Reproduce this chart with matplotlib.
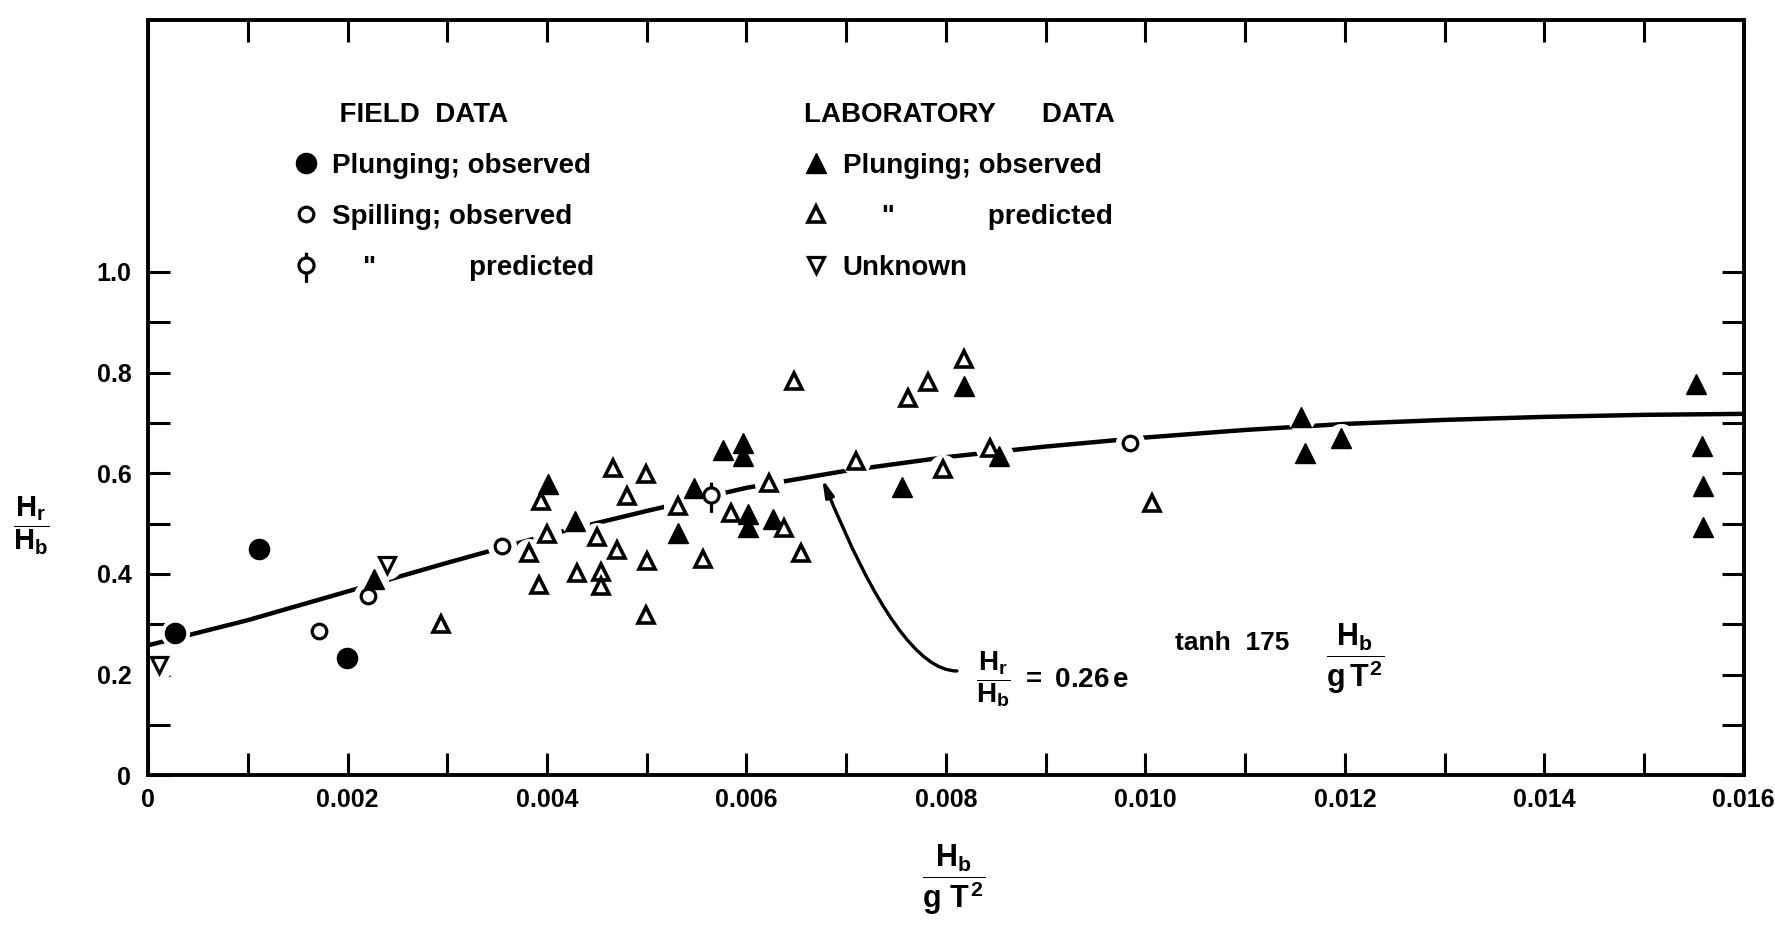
import matplotlib
matplotlib.use("Agg")
import matplotlib.pyplot as plt
from matplotlib.path import Path
from matplotlib.font_manager import FontProperties

# --- values ---
# field data
field_plunge_x = [0.00027, 0.00111, 0.00199]
field_plunge_y = [0.282, 0.450, 0.232]
field_spill_x = [0.00171, 0.00221, 0.00355, 0.00985]
field_spill_y = [0.286, 0.356, 0.455, 0.660]
field_pred_x = [0.00564]
field_pred_y = [0.556]

# laboratory data
lab_plunge_x = [0.00227, 0.00401, 0.00428, 0.00531, 0.00547, 0.00577, 0.00597,
                0.00597, 0.00602, 0.00602, 0.00627, 0.00756, 0.00818, 0.00853,
                0.01156, 0.01160, 0.01196, 0.01552, 0.01558, 0.01559, 0.01559]
lab_plunge_y = [0.390, 0.579, 0.505, 0.482, 0.570, 0.646, 0.660,
                0.635, 0.518, 0.493, 0.509, 0.572, 0.773, 0.635,
                0.712, 0.640, 0.671, 0.777, 0.655, 0.574, 0.493]
lab_pred_x = [0.00294, 0.00382, 0.00392, 0.00394, 0.00400, 0.00430, 0.00450,
              0.00454, 0.00454, 0.00466, 0.00470, 0.00480, 0.00499, 0.00500,
              0.00499, 0.00531, 0.00556, 0.00585, 0.00623, 0.00638, 0.00648,
              0.00655, 0.00710, 0.00762, 0.00782, 0.00797, 0.00818, 0.00844,
              0.01007]
lab_pred_y = [0.300, 0.441, 0.378, 0.545, 0.480, 0.401, 0.473,
              0.403, 0.376, 0.610, 0.448, 0.554, 0.599, 0.426,
              0.318, 0.534, 0.430, 0.520, 0.581, 0.491, 0.784,
              0.441, 0.624, 0.750, 0.782, 0.608, 0.827, 0.651,
              0.540]
unknown_x = [0.00011, 0.00240]
unknown_y = [0.218, 0.417]

# fitted curve
curve_x = [0.0, 0.001, 0.002, 0.003, 0.004, 0.005, 0.006, 0.007, 0.008,
           0.009, 0.010, 0.011, 0.012, 0.013, 0.014, 0.015, 0.016]
curve_y = [0.258, 0.308, 0.365, 0.422, 0.477, 0.525, 0.571, 0.605, 0.632,
           0.653, 0.671, 0.686, 0.698, 0.706, 0.712, 0.716, 0.718]

x_ticks = [0.0, 0.002, 0.004, 0.006, 0.008, 0.010, 0.012, 0.014, 0.016]
x_ticklabels = ["0", "0.002", "0.004", "0.006", "0.008", "0.010", "0.012", "0.014", "0.016"]
y_ticks = [0.0, 0.2, 0.4, 0.6, 0.8, 1.0]
y_ticklabels = ["0", "0.2", "0.4", "0.6", "0.8", "1.0"]

# --- style ---
plt.rcParams["font.family"] = ["Liberation Sans", "DejaVu Sans"]
plt.rcParams["font.weight"] = "bold"
plt.rcParams["mathtext.fontset"] = "custom"
plt.rcParams["mathtext.rm"] = "Liberation Sans:bold"
plt.rcParams["mathtext.it"] = "Liberation Sans:bold"
plt.rcParams["mathtext.bf"] = "Liberation Sans:bold"
plt.rcParams["mathtext.sf"] = "Liberation Sans:bold"

tick_font = FontProperties(family="Liberation Sans", weight="bold", size=18)
legend_font = FontProperties(family="Liberation Sans", weight="bold", size=20)

# marker for "spilling; predicted": open circle with a stem above and below
pred_marker = Path.make_compound_path(
    Path.unit_circle(),
    Path([(0, 1.0), (0, 1.7)], [Path.MOVETO, Path.LINETO]),
    Path([(0, -1.0), (0, -2.3)], [Path.MOVETO, Path.LINETO]),
)

fig = plt.figure(figsize=(17.75, 9.25), dpi=100)
ax = fig.add_axes([0.0834, 0.162, 0.899, 0.816])

ax.plot(curve_x, curve_y, color="black", lw=3.2, solid_capstyle="butt", zorder=1)

# white halos so the curve breaks around the symbols, like the drawing
all_x = field_plunge_x + field_spill_x + field_pred_x + lab_plunge_x + lab_pred_x + unknown_x
all_y = field_plunge_y + field_spill_y + field_pred_y + lab_plunge_y + lab_pred_y + unknown_y
ax.plot(all_x, all_y, ls="none", marker="o", ms=21, mfc="white", mec="none", zorder=2)

h_fp, = ax.plot(field_plunge_x, field_plunge_y, ls="none", marker="o", ms=14.5,
                mfc="black", mec="black", zorder=3)
h_fs, = ax.plot(field_spill_x, field_spill_y, ls="none", marker="o", ms=10.5,
                mfc="white", mec="black", mew=2.3, zorder=3)
h_fpr, = ax.plot(field_pred_x, field_pred_y, ls="none", marker=pred_marker, ms=25,
                 mfc="white", mec="black", mew=2.3, zorder=3)
h_lp, = ax.plot(lab_plunge_x, lab_plunge_y, ls="none", marker="^", ms=15,
                mfc="black", mec="black", zorder=3)
h_lpr, = ax.plot(lab_pred_x, lab_pred_y, ls="none", marker="^", ms=11,
                 mfc="white", mec="black", mew=2.6, zorder=3)
h_un, = ax.plot(unknown_x, unknown_y, ls="none", marker="v", ms=11.5,
                mfc="white", mec="black", mew=2.3, zorder=3)

# axes, ticks
ax.set_xlim(0, 0.016)
ax.set_ylim(0, 1.5)
ax.set_xticks(x_ticks)
ax.set_xticklabels(x_ticklabels, fontproperties=tick_font)
ax.set_xticks([0.001 * i for i in range(1, 16, 2)], minor=True)
ax.set_yticks(y_ticks)
ax.set_yticklabels(y_ticklabels, fontproperties=tick_font)
ax.set_yticks([0.1, 0.3, 0.5, 0.7, 0.9], minor=True)
ax.tick_params(which="both", direction="in", length=16, width=2.2,
               top=True, right=True, labeltop=False, labelright=False)
ax.tick_params(axis="x", which="both", pad=9)
ax.tick_params(axis="y", which="both", pad=12)
for sp in ax.spines.values():
    sp.set_linewidth(2.8)

ax.set_xlabel(r"$\dfrac{H_b}{g\ T^2}$", fontsize=22)
ax.xaxis.set_label_coords(0.505, -0.088)
ax.set_ylabel(r"$\dfrac{H_r}{H_b}$", fontsize=21, rotation=0, va="center")
ax.yaxis.set_label_coords(-0.073, 0.33)

# legends
leg1 = ax.legend([h_fp, h_fs, h_fpr],
                 ["Plunging; observed", "Spilling; observed", '    "            predicted'],
                 title="      FIELD  DATA", loc="upper left", bbox_to_anchor=(0.091, 0.892),
                 frameon=False, prop=legend_font, title_fontproperties=legend_font,
                 alignment="left", handlelength=0.9, handletextpad=0.5,
                 labelspacing=0.9, borderpad=0, borderaxespad=0)
ax.add_artist(leg1)
ax.legend([h_lp, h_lpr, h_un],
          ["Plunging; observed", '     "            predicted', "Unknown"],
          title="LABORATORY      DATA", loc="upper left", bbox_to_anchor=(0.411, 0.892),
          frameon=False, prop=legend_font, title_fontproperties=legend_font,
          alignment="left", handlelength=0.9, handletextpad=0.5,
          labelspacing=0.9, borderpad=0, borderaxespad=0)

# formula with its pointer
ax.annotate("", xy=(0.00676, 0.589), xytext=(0.00811, 0.207),
            arrowprops=dict(arrowstyle="-|>,head_length=1.0,head_width=0.25",
                            connectionstyle="angle3,angleA=0,angleB=112",
                            color="black", lw=2.4, shrinkA=0, shrinkB=0),
            zorder=4)
ax.text(0.0083, 0.19, r"$\dfrac{H_r}{H_b}\ =\ 0.26\,e$", fontsize=20, va="center", ha="left")
ax.text(0.0103, 0.262, "tanh  175", fontsize=19, fontweight="bold", va="center", ha="left")
ax.text(0.0121, 0.232, r"$\dfrac{H_b}{g\,T^2}$", fontsize=22, va="center", ha="center")

fig.savefig("out.png", dpi=100, facecolor="white")
